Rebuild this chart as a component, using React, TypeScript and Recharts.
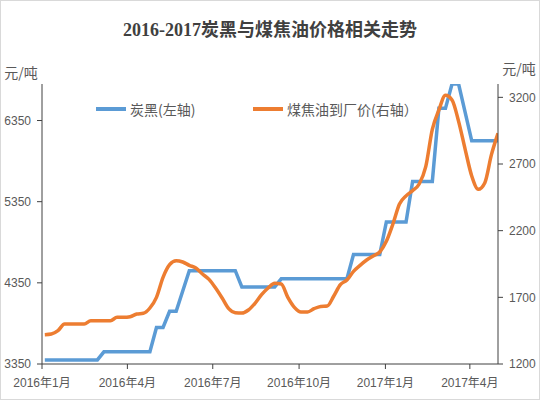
import React from 'react';
import { LineChart, Line, XAxis, YAxis } from 'recharts';

// weekly observation dates
const weekDates = [
  '2016-01-04', '2016-01-11', '2016-01-18', '2016-01-25', '2016-02-01', '2016-02-08', '2016-02-15',
  '2016-02-22', '2016-02-29', '2016-03-07', '2016-03-14', '2016-03-21', '2016-03-28', '2016-04-04',
  '2016-04-11', '2016-04-18', '2016-04-25', '2016-05-02', '2016-05-09', '2016-05-16', '2016-05-23',
  '2016-05-30', '2016-06-06', '2016-06-13', '2016-06-20', '2016-06-27', '2016-07-04', '2016-07-11',
  '2016-07-18', '2016-07-25', '2016-08-01', '2016-08-08', '2016-08-15', '2016-08-22', '2016-08-29',
  '2016-09-05', '2016-09-12', '2016-09-19', '2016-09-26', '2016-10-03', '2016-10-10', '2016-10-17',
  '2016-10-24', '2016-10-31', '2016-11-07', '2016-11-14', '2016-11-21', '2016-11-28', '2016-12-05',
  '2016-12-12', '2016-12-19', '2016-12-26', '2017-01-02', '2017-01-09', '2017-01-16', '2017-01-23',
  '2017-01-30', '2017-02-06', '2017-02-13', '2017-02-20', '2017-02-27', '2017-03-06', '2017-03-13',
  '2017-03-20', '2017-03-27', '2017-04-03', '2017-04-10', '2017-04-17', '2017-04-24', '2017-05-01',
];

// 炭黑 (left axis, 元/吨)
const carbonBlack = [
  3400, 3400, 3400, 3400, 3400, 3400, 3400, 3400, 3400, 3500,
  3500, 3500, 3500, 3500, 3500, 3500, 3500, 3800, 3800, 4000,
  4000, 4250, 4500, 4500, 4500, 4500, 4500, 4500, 4500, 4500,
  4300, 4300, 4300, 4300, 4300, 4300, 4400, 4400, 4400, 4400,
  4400, 4400, 4400, 4400, 4400, 4400, 4400, 4700, 4700, 4700,
  4700, 4700, 5100, 5100, 5100, 5100, 5600, 5600, 5600, 5600,
  6500, 6500, 6800, 6800, 6450, 6100, 6100, 6100, 6100, 6100,
];

// 煤焦油到厂价 (right axis, 元/吨)
const coalTarOil = [
  1420, 1425, 1450, 1500, 1500, 1500, 1500, 1525, 1525, 1525,
  1525, 1550, 1550, 1555, 1575, 1580, 1620, 1700, 1850, 1945,
  1975, 1965, 1940, 1920, 1875, 1835, 1770, 1695, 1615, 1585,
  1582, 1605, 1655, 1720, 1770, 1805, 1800, 1700, 1625, 1590,
  1590, 1615, 1632, 1635, 1710, 1795, 1830, 1895, 1940, 1980,
  2010, 2040, 2120, 2250, 2400, 2461, 2500, 2550, 2680, 2960,
  3105, 3215, 3180, 3020, 2810, 2610, 2510, 2560, 2770, 2930,
];

const xTickDates = ['2016-01-01', '2016-04-01', '2016-07-01', '2016-10-01', '2017-01-01', '2017-04-01'];
const xTickLabels = ['2016年1月', '2016年4月', '2016年7月', '2016年10月', '2017年1月', '2017年4月'];
const xDomainDates = ['2016-01-01', '2017-05-01'];
const leftTicks = [3350, 4350, 5350, 6350];
const rightTicks = [1200, 1700, 2200, 2700, 3200];
const seriesNames = ['炭黑(左轴)', '煤焦油到厂价(右轴）'];
const seriesColors = ['#5B9BD5', '#ED7D31'];
const titleText = '2016-2017炭黑与煤焦油价格相关走势';
const unitText = '元/吨';

const origin = Date.parse('2016-01-01');
const toDay = (s: string) => (Date.parse(s) - origin) / 86400000;

const data = weekDates.map((d, i) => ({ t: toDay(d), cb: carbonBlack[i], oil: coalTarOil[i] }));
const xTicks = xTickDates.map(toDay);
const tickLabelMap: Record<number, string> = {};
xTicks.forEach((t, i) => { tickLabelMap[t] = xTickLabels[i]; });

const axisColor = '#404040';
const textColor = '#595959';
const tickFont = { fontSize: 12, fill: textColor, fontFamily: '"Liberation Sans", "Noto Sans CJK SC", sans-serif' };

export default function App() {
  return (
    <div style={{ position: 'absolute', left: 0, top: 0, width: 540, height: 400, background: '#fff' }}>
      <LineChart
        width={540}
        height={400}
        data={data}
        margin={{ top: 84, right: 0, bottom: 0, left: 0 }}
      >
        <XAxis
          dataKey="t"
          type="number"
          domain={xDomainDates.map(toDay)}
          ticks={xTicks}
          tickFormatter={(v: number) => tickLabelMap[v] ?? ''}
          height={36}
          tickSize={5}
          tickMargin={9}
          stroke={axisColor}
          tick={tickFont}
          interval={0}
          allowDataOverflow
        />
        <YAxis
          yAxisId="left"
          orientation="left"
          width={42}
          domain={[3350, 6800]}
          ticks={leftTicks}
          tickSize={5}
          tickMargin={6}
          stroke={axisColor}
          tick={tickFont}
          allowDataOverflow
          label={{ value: unitText, position: 'top', offset: 6, fill: textColor, fontSize: 14, fontFamily: '"Noto Sans CJK SC", sans-serif' }}
        />
        <YAxis
          yAxisId="right"
          orientation="right"
          width={42}
          domain={[1200, 3300]}
          ticks={rightTicks}
          tickSize={5}
          tickMargin={6}
          stroke={axisColor}
          tick={tickFont}
          allowDataOverflow
          label={{ value: unitText, position: 'top', offset: 10, fill: textColor, fontSize: 14, fontFamily: '"Noto Sans CJK SC", sans-serif' }}
        />
        <Line
          yAxisId="left"
          type="linear"
          dataKey="cb"
          name={seriesNames[0]}
          stroke={seriesColors[0]}
          strokeWidth={3.5}
          dot={false}
          isAnimationActive={false}
        />
        <Line
          yAxisId="right"
          type="monotone"
          dataKey="oil"
          name={seriesNames[1]}
          stroke={seriesColors[1]}
          strokeWidth={3.5}
          dot={false}
          isAnimationActive={false}
        />
      </LineChart>
      <div
        style={{
          position: 'absolute', left: 0, top: 17, width: 540, textAlign: 'center',
          fontFamily: '"Liberation Serif", "Noto Sans CJK SC", serif', fontWeight: 'bold',
          fontSize: 18, color: '#404040', lineHeight: '26px',
        }}
      >
        {titleText}
      </div>
      {seriesNames.map((name, i) => (
        <div
          key={name}
          style={{
            position: 'absolute', left: i === 0 ? 96 : 253, top: 99, height: 20,
            display: 'flex', alignItems: 'center',
            fontFamily: '"Noto Sans CJK SC", sans-serif', fontSize: 14, color: textColor,
          }}
        >
          <span style={{ display: 'inline-block', width: 30, height: 4, background: seriesColors[i], marginRight: 4 }} />
          <span>{name}</span>
        </div>
      ))}
      <div style={{ position: 'absolute', left: 0, top: 0, width: 540, height: 400, boxSizing: 'border-box', border: '1px solid #d9d9d9', pointerEvents: 'none' }} />
    </div>
  );
}
